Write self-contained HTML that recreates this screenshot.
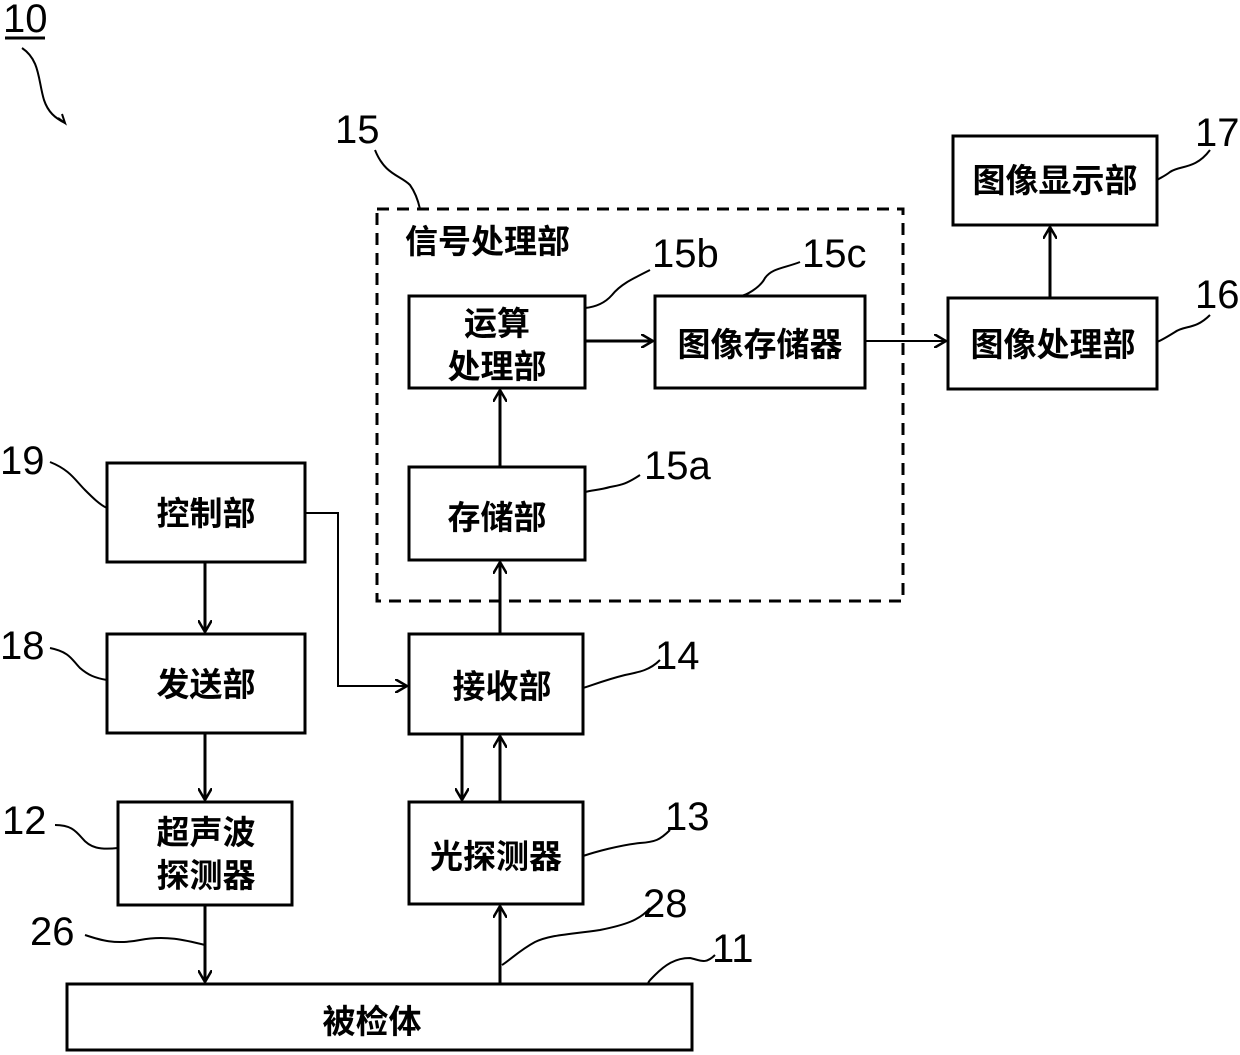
<!DOCTYPE html>
<html><head><meta charset="utf-8"><style>
html,body{margin:0;padding:0;background:#fff;}
svg{display:block;}
.b{font-family:"Liberation Sans","Noto Sans CJK SC",sans-serif;font-weight:bold;font-size:33px;fill:#000;text-anchor:middle;}
.n{font-family:"Liberation Sans",sans-serif;font-size:40px;fill:#000;}
</style></head><body>
<svg width="1240" height="1055" viewBox="0 0 1240 1055" xmlns="http://www.w3.org/2000/svg">
<defs><marker id="a" markerWidth="14" markerHeight="14" refX="12" refY="7" orient="auto" markerUnits="userSpaceOnUse"><path d="M0,0 L12,7 L0,14" fill="none" stroke="#000" stroke-width="2.5"/></marker></defs>
<g fill="none" stroke="#000" stroke-width="3">
<rect x="953" y="136" width="204" height="89"/>
<rect x="948" y="298" width="209" height="91"/>
<rect x="409" y="296" width="176" height="92"/>
<rect x="655" y="296" width="210" height="92"/>
<rect x="409" y="467" width="176" height="93"/>
<rect x="107" y="463" width="198" height="99"/>
<rect x="107" y="634" width="198" height="99"/>
<rect x="409" y="634" width="174" height="100"/>
<rect x="118" y="802" width="174" height="103"/>
<rect x="409" y="802" width="174" height="102"/>
<rect x="67" y="984" width="625" height="66"/>
<rect x="377" y="209" width="526" height="392" stroke-dasharray="12,8"/>
</g>
<g fill="none" stroke="#000" stroke-width="3" marker-end="url(#a)">
<line x1="205" y1="563" x2="205" y2="632"/>
<line x1="205" y1="733" x2="205" y2="800"/>
<line x1="205" y1="905" x2="205" y2="982"/>
<line x1="500" y1="984" x2="500" y2="906"/>
<line x1="462" y1="734" x2="462" y2="800"/>
<line x1="500" y1="802" x2="500" y2="736"/>
<line x1="500" y1="634" x2="500" y2="562"/>
<line x1="500" y1="467" x2="500" y2="390"/>
<line x1="585" y1="341" x2="653" y2="341"/>
<line x1="1050" y1="298" x2="1050" y2="227"/>
<polyline points="305,513 338,513 338,686 407,686" stroke-width="2"/>
<line x1="865" y1="341" x2="946" y2="341" stroke-width="2"/>
</g>
<g fill="none" stroke="#000" stroke-width="2">
<line x1="5" y1="38" x2="45" y2="38" stroke-width="3"/>
<path d="M22,48 C40,60 38,80 44,100 C48,112 55,118 65,123"/>
<path d="M58,118 L65,123 L62,114"/>
<path d="M375,150 C385,175 400,175 410,185 C415,192 418,200 420,209"/>
<path d="M1210,150 C1195,170 1180,165 1170,172 C1165,176 1160,178 1157,180"/>
<path d="M1210,315 C1195,330 1185,325 1175,332 C1167,337 1162,340 1157,342"/>
<path d="M650,270 C630,280 620,285 612,295 C605,303 595,307 585,308"/>
<path d="M800,262 C785,268 772,268 765,278 C760,288 745,296 740,296"/>
<path d="M640,475 C625,485 620,485 610,487 C600,490 592,490 585,492"/>
<path d="M50,462 C70,470 75,480 85,490 C92,497 100,505 107,508"/>
<path d="M50,648 C70,652 72,660 80,668 C88,675 95,678 107,680"/>
<path d="M660,660 C650,670 640,672 625,675 C605,680 590,686 583,688"/>
<path d="M55,825 C70,825 75,830 82,838 C90,848 100,850 118,848"/>
<path d="M670,830 C660,840 655,842 640,843 C620,845 595,852 583,856"/>
<path d="M85,935 C100,940 115,945 140,940 C165,935 185,940 205,945"/>
<path d="M650,908 C640,920 625,925 600,930 C565,935 550,935 535,942 C520,950 510,960 502,965"/>
<path d="M715,955 C705,965 700,960 690,958 C675,958 665,965 655,975 C650,980 648,982 648,984"/>
</g>
<text class="n" x="3" y="32" font-size="36">10</text>
<text class="n" x="335" y="143">15</text>
<text class="n" x="1195" y="146">17</text>
<text class="n" x="1195" y="308">16</text>
<text class="n" x="652" y="267">15b</text>
<text class="n" x="802" y="267">15c</text>
<text class="n" x="644" y="479">15a</text>
<text class="n" x="0" y="474">19</text>
<text class="n" x="0" y="659">18</text>
<text class="n" x="655" y="669">14</text>
<text class="n" x="2" y="834">12</text>
<text class="n" x="665" y="830">13</text>
<text class="n" x="643" y="917">28</text>
<text class="n" x="30" y="945">26</text>
<text class="n" x="712" y="962">11</text>
<text class="b" x="1055" y="192">图像显示部</text>
<text class="b" x="1053" y="356">图像处理部</text>
<text class="b" x="497" y="335">运算</text>
<text class="b" x="497" y="378">处理部</text>
<text class="b" x="760" y="356">图像存储器</text>
<text class="b" x="497" y="529">存储部</text>
<text class="b" x="405" y="253" style="text-anchor:start">信号处理部</text>
<text class="b" x="206" y="525">控制部</text>
<text class="b" x="206" y="696">发送部</text>
<text class="b" x="502" y="698">接收部</text>
<text class="b" x="206" y="844">超声波</text>
<text class="b" x="206" y="887">探测器</text>
<text class="b" x="496" y="868">光探测器</text>
<text class="b" x="372" y="1033">被检体</text>
</svg>
</body></html>
